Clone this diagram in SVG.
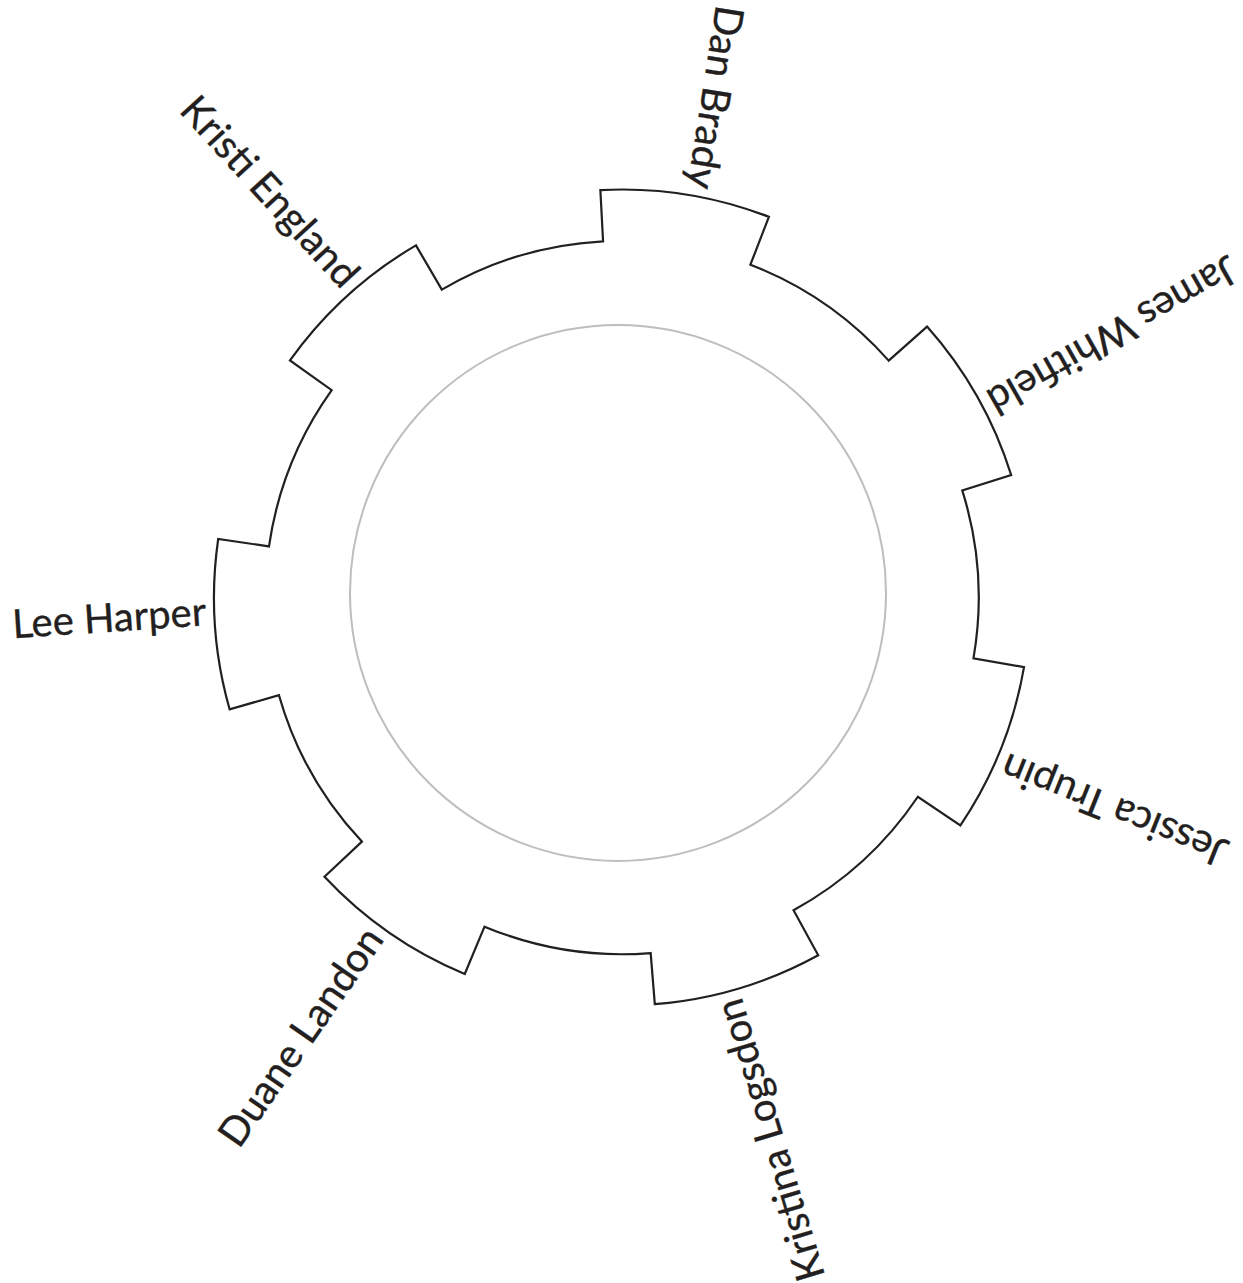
<svg xmlns="http://www.w3.org/2000/svg" width="1243" height="1283" viewBox="0 0 1243 1283">
<style>
.gear{fill:none;stroke:#231f20;stroke-width:2.2;stroke-linejoin:miter}
.ring{fill:none;stroke:#bcbec0;stroke-width:2}
.lbl{font-family:Lato,"Open Sans",sans-serif;font-size:40px;fill:#231f20;text-anchor:end;stroke:#231f20;stroke-width:0.35}
</style>
<rect width="1243" height="1283" fill="#ffffff"/>
<g id="ring"><circle class="ring" cx="618" cy="593" r="268"/></g>
<g id="gear">
<path class="gear" d="M603.08,241.3 L600.36,190.08 A408,408 0 0 1 768.88,216.86 L750.41,264.72 A356.7,356.7 0 0 1 888.7,360.64 L927.06,326.57 A408,408 0 0 1 1011.18,475.02 L962.25,490.42 A356.7,356.7 0 0 1 973.47,658.33 L1024.02,667.08 A408,408 0 0 1 960.4,825.42 L917.85,796.76 A356.7,356.7 0 0 1 793.55,910.24 L818.22,955.22 A408,408 0 0 1 654.8,1004.18 L650.67,953.04 A356.7,356.7 0 0 1 484.52,926.64 L464.75,973.98 A408,408 0 0 1 324.48,876.69 L361.89,841.59 A356.7,356.7 0 0 1 278.95,695.22 L229.61,709.28 A408,408 0 0 1 218.21,539.03 L268.98,546.38 A356.7,356.7 0 0 1 331.72,390.2 L289.98,360.38 A408,408 0 0 1 415.95,245.36 L441.86,289.63 A356.7,356.7 0 0 1 603.08,241.3 Z"/>
</g>
<g id="label-dan-brady"><text class="lbl" x="206" y="597.5" transform="rotate(99.03 622 597.5)">Dan Brady</text></g>
<g id="label-james-whitfield"><text class="lbl" x="206" y="597.5" transform="rotate(150.46 622 597.5)">James Whitfield</text></g>
<g id="label-jessica-trupin"><text class="lbl" x="206" y="597.5" transform="rotate(201.89 622 597.5)">Jessica Trupin</text></g>
<g id="label-kristina-logsdon"><text class="lbl" x="206" y="597.5" transform="rotate(253.32 622 597.5)">Kristina Logsdon</text></g>
<g id="label-duane-landon"><text class="lbl" x="206" y="597.5" transform="rotate(304.74 622 597.5)">Duane Landon</text></g>
<g id="label-lee-harper"><text class="lbl" x="206" y="597.5" transform="rotate(-3.83 622 597.5)">Lee Harper</text></g>
<g id="label-kristi-england"><text class="lbl" x="206" y="597.5" transform="rotate(47.6 622 597.5)">Kristi England</text></g>
</svg>
